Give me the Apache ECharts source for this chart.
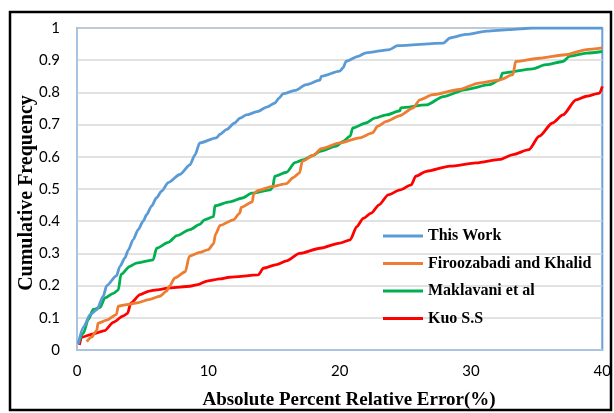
<!DOCTYPE html>
<html>
<head>
<meta charset="utf-8">
<script src="https://cdn.jsdelivr.net/npm/echarts@6/dist/echarts.min.js"></script>
<style>
html,body{margin:0;padding:0;background:#fff;}
#chart{width:614px;height:413px;}
</style>
</head>
<body>
<div id="chart"></div>
<script>
var seriesNames = ['This Work', 'Firoozabadi and Khalid', 'Maklavani et al', 'Kuo S.S'];
var xTicks = [0, 10, 20, 30, 40];
var yTicks = [0, 0.1, 0.2, 0.3, 0.4, 0.5, 0.6, 0.7, 0.8, 0.9, 1];
var xTitle = 'Absolute Percent Relative Error(%)';
var yTitle = 'Cumulative Frequency';

var thisWork = [[0.1,0.02],[0.48,0.07],[1.0,0.11],[1.5,0.125],[2.0,0.167],[2.26,0.2],[3.0,0.23],[3.27,0.26],[3.65,0.286],[3.9,0.31],[4.28,0.343],[4.66,0.374],[5.04,0.4],[5.3,0.42],[5.68,0.447],[6.06,0.473],[6.44,0.493],[6.95,0.52],[7.83,0.545],[8.6,0.575],[8.97,0.605],[9.35,0.643],[10.6,0.659],[10.9,0.67],[11.4,0.685],[12.0,0.705],[12.4,0.72],[12.9,0.73],[13.7,0.74],[14.5,0.755],[15.06,0.767],[15.4,0.783],[15.7,0.796],[16.6,0.806],[17.45,0.824],[18.5,0.838],[18.6,0.85],[20.0,0.866],[20.25,0.876],[20.5,0.897],[21.4,0.912],[22.0,0.923],[23.8,0.933],[24.4,0.945],[27.9,0.953],[28.4,0.969],[29.6,0.98],[31.2,0.99],[32.9,0.995],[34.7,1.0],[40,1.0]];

var firoozabadi = [[0.74,0.026],[1.1,0.04],[1.5,0.06],[1.6,0.083],[2.26,0.093],[3.0,0.11],[3.14,0.136],[3.77,0.141],[4.5,0.146],[5.55,0.157],[6.3,0.167],[6.82,0.183],[7.07,0.2],[7.45,0.224],[8.25,0.243],[8.55,0.291],[9.35,0.303],[10.0,0.312],[10.4,0.33],[10.55,0.36],[10.9,0.387],[11.9,0.404],[12.4,0.425],[12.5,0.443],[13.35,0.46],[13.45,0.485],[13.8,0.496],[14.9,0.508],[15.95,0.517],[16.45,0.535],[16.95,0.55],[17.15,0.586],[17.97,0.604],[18.6,0.625],[20.0,0.643],[21.5,0.659],[22.5,0.674],[22.9,0.695],[23.55,0.71],[24.6,0.728],[25.6,0.752],[26.1,0.777],[27.1,0.793],[29.1,0.809],[30.6,0.829],[32.2,0.839],[33.2,0.855],[33.4,0.896],[35.2,0.906],[37.2,0.917],[38.8,0.933],[40,0.938]];

var maklavani = [[0.1,0.02],[0.48,0.052],[0.86,0.095],[1.24,0.126],[1.75,0.132],[2.13,0.162],[2.76,0.176],[3.14,0.186],[3.35,0.235],[4.03,0.26],[4.53,0.27],[5.8,0.28],[6.06,0.316],[6.95,0.334],[7.6,0.355],[8.6,0.374],[9.35,0.39],[9.7,0.404],[10.4,0.414],[10.5,0.448],[11.6,0.46],[12.6,0.472],[13.3,0.487],[14.7,0.497],[14.9,0.505],[15.06,0.54],[15.95,0.552],[16.6,0.582],[17.2,0.59],[17.97,0.604],[18.5,0.617],[19.75,0.633],[20.25,0.648],[20.8,0.664],[21.0,0.69],[22.0,0.705],[22.66,0.72],[23.55,0.73],[24.6,0.743],[24.65,0.752],[26.6,0.761],[27.9,0.787],[29.6,0.809],[31.4,0.824],[32.2,0.839],[32.4,0.86],[34.7,0.873],[35.7,0.886],[37.0,0.896],[37.5,0.912],[38.8,0.922],[40,0.927]];

var kuo = [[0.18,0.016],[0.36,0.04],[1.24,0.05],[2.1,0.06],[2.76,0.086],[3.5,0.105],[3.85,0.114],[4.1,0.146],[4.8,0.172],[5.5,0.183],[6.06,0.187],[7.07,0.193],[8.6,0.198],[9.2,0.203],[9.9,0.214],[10.9,0.221],[11.6,0.226],[13.8,0.233],[14.2,0.254],[15.2,0.265],[15.95,0.277],[16.95,0.3],[18.5,0.316],[20.0,0.332],[20.8,0.342],[21.3,0.383],[21.8,0.409],[22.4,0.425],[23.0,0.451],[23.7,0.482],[24.6,0.497],[25.45,0.513],[25.8,0.54],[26.6,0.555],[28.4,0.571],[30.4,0.581],[32.2,0.592],[33.2,0.607],[34.4,0.622],[35.2,0.664],[36.2,0.705],[37.0,0.73],[38.0,0.777],[38.8,0.788],[39.8,0.798],[40.0,0.819]];

var colors = ['#5B9BD5', '#ED7D31', '#00B050', '#FF0000'];
var allData = [thisWork, firoozabadi, maklavani, kuo];

var chart = echarts.init(document.getElementById('chart'), null, {renderer: 'canvas'});

var series = allData.map(function (d, i) {
  return {
    name: seriesNames[i],
    type: 'line',
    data: d,
    symbol: 'none',
    smooth: 0.25,
    smoothMonotone: 'x',
    z: 10 - i,
    lineStyle: {color: colors[i], width: 2.8},
    itemStyle: {color: colors[i]}
  };
});

chart.setOption({
  animation: false,
  backgroundColor: '#ffffff',
  graphic: [{
    type: 'rect',
    shape: {x: 10, y: 12, width: 601, height: 398},
    style: {fill: 'none', stroke: '#000000', lineWidth: 2.5},
    z: -1
  }, {
    type: 'text',
    x: 349, y: 400,
    style: {text: xTitle, align: 'center', verticalAlign: 'middle',
      font: 'bold 19px "Liberation Serif"', fill: '#000'}
  }, {
    type: 'text',
    x: 27, y: 193,
    rotation: Math.PI / 2,
    style: {text: yTitle, align: 'center', verticalAlign: 'middle',
      font: 'bold 20px "Liberation Serif"', fill: '#000'}
  }],
  grid: {
    left: 77, right: 11, top: 28, bottom: 63,
    show: true,
    borderColor: '#6A9FD8',
    borderWidth: 2
  },
  legend: {
    data: seriesNames,
    orient: 'vertical',
    left: 378,
    top: 223,
    itemWidth: 40,
    itemHeight: 14,
    itemGap: 11.5,
    icon: 'path://M0,0 L40,0 L40,3 L0,3 Z',
    textStyle: {fontFamily: 'Liberation Serif', fontWeight: 'bold', fontSize: 16, color: '#000'},
    backgroundColor: 'transparent'
  },
  xAxis: {
    type: 'value',
    min: xTicks[0], max: xTicks[xTicks.length - 1], interval: 10,
    axisLine: {show: true, lineStyle: {color: '#A9C4E0', width: 2}},
    axisTick: {show: false},
    splitLine: {show: false},
    axisLabel: {fontFamily: 'Lato', fontSize: 15, color: '#000', margin: 14}
  },
  yAxis: {
    type: 'value',
    min: yTicks[0], max: yTicks[yTicks.length - 1], interval: 0.1,
    axisLine: {show: true, lineStyle: {color: '#A9C4E0', width: 2}},
    axisTick: {show: false},
    splitLine: {show: true, lineStyle: {color: '#D9D9D9', width: 1.5}},
    axisLabel: {fontFamily: 'Lato', fontSize: 15, color: '#000', margin: 17,
      formatter: function (v) { return String(Math.round(v * 10) / 10); }}
  },
  series: series
});
</script>
</body>
</html>
